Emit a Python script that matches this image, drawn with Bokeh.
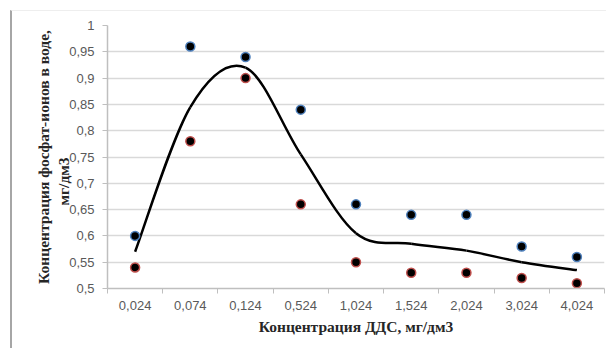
from bokeh.plotting import figure
from bokeh.models import FixedTicker, Range1d, Title
from bokeh.embed import file_html
from bokeh.resources import INLINE

categories = ["0,024", "0,074", "0,124", "0,524", "1,024", "1,524", "2,024", "3,024", "4,024"]
series_blue = [0.60, 0.96, 0.94, 0.84, 0.66, 0.64, 0.64, 0.58, 0.56]
series_red = [0.54, 0.78, 0.90, 0.66, 0.55, 0.53, 0.53, 0.52, 0.51]
trend = [0.57, 0.845, 0.92, 0.755, 0.605, 0.585, 0.572, 0.55, 0.535]
y_ticks = [0.5, 0.55, 0.6, 0.65, 0.7, 0.75, 0.8, 0.85, 0.9, 0.95, 1.0]
y_tick_labels = ["0,5", "0,55", "0,6", "0,65", "0,7", "0,75", "0,8", "0,85", "0,9", "0,95", "1"]
y_title_line1 = "Концентрация фосфат-ионов в воде,"
y_title_line2 = "мг/дм3"
x_title = "Концентрация ДДС, мг/дм3"

xs = [i + 0.5 for i in range(len(categories))]

p = figure(width=596, height=338, output_backend="svg", toolbar_location=None,
           x_range=Range1d(0, len(categories)), y_range=Range1d(0.5, 1.0),
           min_border_left=95, min_border_right=4, min_border_top=14, min_border_bottom=61)
p.styles = {"margin-left": "10px", "margin-top": "10px",
            "border-left": "2px solid #a6a6a6", "border-top": "1px solid #eeeeee"}
p.outline_line_color = None
p.background_fill_color = "white"

# axes
p.xaxis.ticker = FixedTicker(ticks=xs, minor_ticks=list(range(len(categories) + 1)))
p.xaxis.major_label_overrides = {x: c for x, c in zip(xs, categories)}
p.xaxis.major_tick_line_color = None
p.xaxis.major_tick_out = 0
p.xaxis.major_tick_in = 0
p.xaxis.minor_tick_line_color = "#bfbfbf"
p.xaxis.minor_tick_out = 5
p.xaxis.minor_tick_in = 0
p.xaxis.axis_line_color = "#bfbfbf"
p.xaxis.axis_line_width = 1.5
p.xaxis.major_label_standoff = 7

p.yaxis.ticker = FixedTicker(ticks=y_ticks, minor_ticks=[])
p.yaxis.major_label_overrides = {t: l for t, l in zip(y_ticks, y_tick_labels)}
p.yaxis.major_tick_line_color = "#bfbfbf"
p.yaxis.major_tick_out = 5
p.yaxis.major_tick_in = 0
p.yaxis.axis_line_color = "#bfbfbf"
p.yaxis.axis_line_width = 1.5
p.yaxis.major_label_standoff = 8

for ax in (p.xaxis, p.yaxis):
    ax.major_label_text_font = "Liberation Sans"
    ax.major_label_text_font_size = "13px"
    ax.major_label_text_color = "#595959"
    ax.axis_label_text_font = "Liberation Serif"
    ax.axis_label_text_font_style = "bold"
    ax.axis_label_text_font_size = "15.5px"
    ax.axis_label_text_color = "#262626"

p.xaxis.axis_label = x_title
p.xaxis.axis_label_standoff = 5

title_kw = dict(text_font="Liberation Serif", text_font_style="bold",
                text_font_size="15.5px", text_color="#262626")
t2 = Title(text=y_title_line2, align="left", standoff=-10, offset=83, **title_kw)
t1 = Title(text=y_title_line1, align="center", vertical_align="top", standoff=8, offset=0, **title_kw)
p.left = [p.yaxis[0], t2, t1]

p.xgrid.grid_line_color = None
p.ygrid.ticker = FixedTicker(ticks=y_ticks)
p.ygrid.grid_line_color = "#d9d9d9"
p.ygrid.grid_line_width = 1.5

# smoothed line through trend values (bezier segments, Catmull-Rom style control points)
n = len(trend)
x0, y0, x1, y1, cx0, cy0, cx1, cy1 = [], [], [], [], [], [], [], []
for i in range(n - 1):
    xa, ya = xs[i], trend[i]
    xb, yb = xs[i + 1], trend[i + 1]
    xp, yp = (xs[i - 1], trend[i - 1]) if i > 0 else (xa, ya)
    xn, yn = (xs[i + 2], trend[i + 2]) if i + 2 < n else (xb, yb)
    x0.append(xa); y0.append(ya); x1.append(xb); y1.append(yb)
    cx0.append(xa + (xb - xp) / 6); cy0.append(ya + (yb - yp) / 6)
    cx1.append(xb - (xn - xa) / 6); cy1.append(yb - (yn - ya) / 6)
p.bezier(x0=x0, y0=y0, x1=x1, y1=y1, cx0=cx0, cy0=cy0, cx1=cx1, cy1=cy1,
         line_color="black", line_width=2.5)

p.scatter(xs, series_blue, size=9, fill_color="black", line_color="#4f81bd", line_width=1.5)
p.scatter(xs, series_red, size=9, fill_color="black", line_color="#c0504d", line_width=1.5)

open("out.html", "w").write(file_html(p, INLINE))
